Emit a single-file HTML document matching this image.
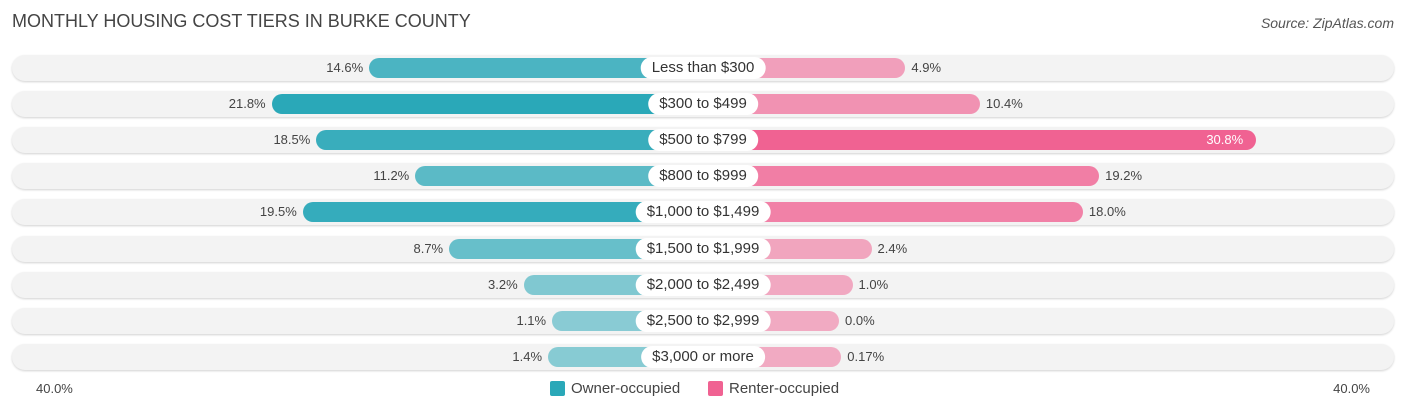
<!DOCTYPE html>
<html><head><meta charset="utf-8">
<style>
body{margin:0;width:1406px;height:414px;background:#fff;font-family:"Liberation Sans",sans-serif;overflow:hidden;position:relative}
.t{position:absolute;left:12px;top:11px;font-size:18px;color:#444}
.s{position:absolute;right:12px;top:15px;font-size:14px;color:#555;font-style:italic}
.row{position:absolute;left:12px;width:1382px;height:26px;border-radius:13px;background:#f3f3f3;box-shadow:0 1px 2px rgba(0,0,0,.18)}
.bar{position:absolute;height:20px;border-radius:10px}
.lab{position:absolute;height:22px;line-height:22px;background:#fff;border-radius:11px;font-size:15px;color:#333;padding:0 11px;transform:translateX(-50%)}
.v{position:absolute;font-size:13px;color:#444;line-height:20px}
.ax{position:absolute;top:381px;font-size:13px;color:#444}
.leg{position:absolute;top:380px;font-size:15px;color:#444;display:flex;align-items:center}
.sw{width:15px;height:15px;border-radius:2px;margin-right:6px}
</style></head><body>
<div class="t">MONTHLY HOUSING COST TIERS IN BURKE COUNTY</div>
<div class="s">Source: ZipAtlas.com</div>
<div id="chart"></div>
<div class="ax" style="left:36px">40.0%</div>
<div class="ax" style="right:36px">40.0%</div>
<div class="leg" style="left:550px"><div class="sw" style="background:#2aa8b8"></div>Owner-occupied</div>
<div class="leg" style="left:708px"><div class="sw" style="background:#f06292"></div>Renter-occupied</div>
<script>
const categories=["Less than $300","$300 to $499","$500 to $799","$800 to $999","$1,000 to $1,499","$1,500 to $1,999","$2,000 to $2,499","$2,500 to $2,999","$3,000 or more"];
const owner=[14.6,21.8,18.5,11.2,19.5,8.7,3.2,1.1,1.4];
const renter=[4.9,10.4,30.8,19.2,18.0,2.4,1.0,0.0,0.17];
const ownerLabels=["14.6%","21.8%","18.5%","11.2%","19.5%","8.7%","3.2%","1.1%","1.4%"];
const renterLabels=["4.9%","10.4%","30.8%","19.2%","18.0%","2.4%","1.0%","0.0%","0.17%"];
const cx=703,base=136,k=13.55,y0=68,dy=36.1;
const c=document.getElementById('chart');
function w(v){return base+k*v;}
categories.forEach((cat,i)=>{
 const yc=y0+i*dy;
 const r=document.createElement('div');r.className='row';r.style.top=(yc-13)+'px';
 
 c.appendChild(r);
 const ow=w(owner[i]);
 const ob=document.createElement('div');ob.className='bar';
 ob.style.left=(cx-ow)+'px';ob.style.width=ow+'px';ob.style.top=(yc-10)+'px';
 ob.style.background='rgba(42,168,184,'+(0.5+0.5*owner[i]/21.8)+')';
 
 c.appendChild(ob);
 const rw=w(renter[i]);
 const rb=document.createElement('div');rb.className='bar';
 rb.style.left=cx+'px';rb.style.width=rw+'px';rb.style.top=(yc-10)+'px';
 rb.style.background='rgba(240,98,146,'+(0.5+0.5*renter[i]/30.8)+')';
 
 c.appendChild(rb);
 const ov=document.createElement('div');ov.className='v';ov.textContent=ownerLabels[i];
 ov.style.right=(1406-(cx-ow)+6)+'px';ov.style.top=(yc-10)+'px';
 
 c.appendChild(ov);
 const rv=document.createElement('div');rv.className='v';rv.textContent=renterLabels[i];
 if(renter[i]>25){rv.style.left=(cx+rw-50)+'px';rv.style.color='#fff';}else{rv.style.left=(cx+rw+6)+'px';}
 rv.style.top=(yc-10)+'px';
 
 c.appendChild(rv);
 const l=document.createElement('div');l.className='lab';l.textContent=cat;
 l.style.left=cx+'px';l.style.top=(yc-11)+'px';
 
 c.appendChild(l);
});
</script>
</body></html>
